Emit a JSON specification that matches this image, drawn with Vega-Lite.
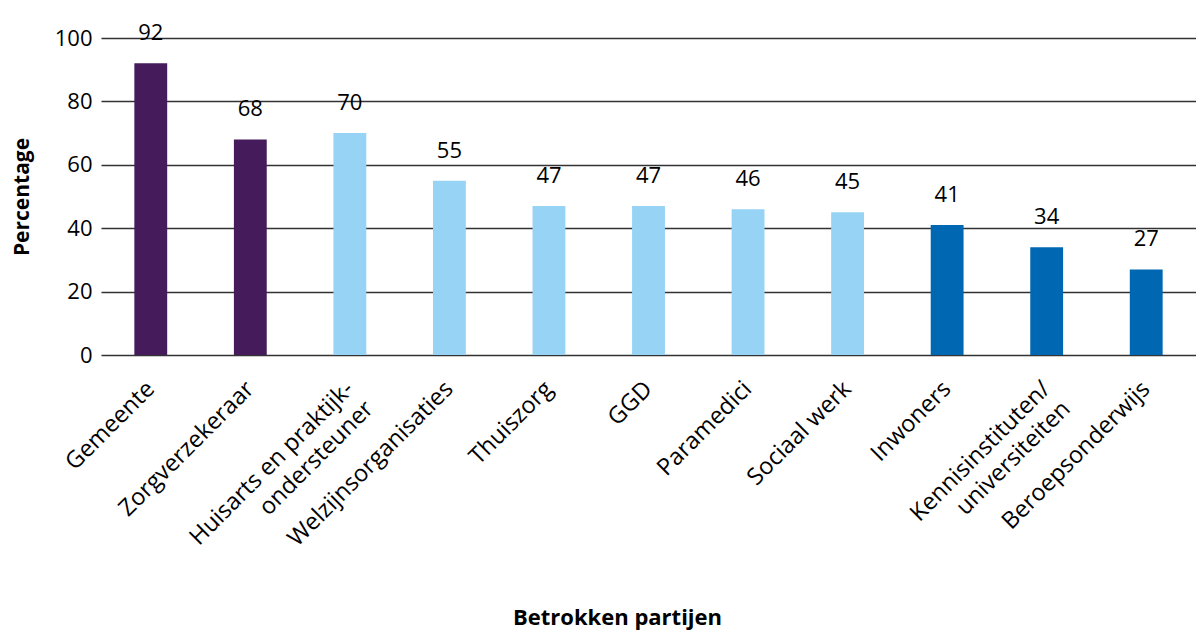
{
  "$schema": "https://vega.github.io/schema/vega-lite/v6.json",
  "autosize": {"type": "none"},
  "width": 1095,
  "height": 317,
  "padding": {"left": 101, "top": 38, "right": 0, "bottom": 280},
  "background": "white",
  "config": {
    "view": {"stroke": null},
    "font": "Open Sans",
    "axis": {"labelFont": "Open Sans", "titleFont": "Open Sans", "labelColor": "#000", "titleColor": "#000"}
  },
  "data": {
    "values": [
      {"partij": "Gemeente", "pct": 92, "groep": "a"},
      {"partij": "Zorgverzekeraar", "pct": 68, "groep": "a"},
      {"partij": "Huisarts en praktijk-|ondersteuner", "pct": 70, "groep": "b"},
      {"partij": "Welzijnsorganisaties", "pct": 55, "groep": "b"},
      {"partij": "Thuiszorg", "pct": 47, "groep": "b"},
      {"partij": "GGD", "pct": 47, "groep": "b"},
      {"partij": "Paramedici", "pct": 46, "groep": "b"},
      {"partij": "Sociaal werk", "pct": 45, "groep": "b"},
      {"partij": "Inwoners", "pct": 41, "groep": "c"},
      {"partij": "Kennisinstituten/|universiteiten", "pct": 34, "groep": "c"},
      {"partij": "Beroepsonderwijs", "pct": 27, "groep": "c"}
    ]
  },
  "encoding": {
    "x": {
      "field": "partij", "type": "nominal", "sort": null,
      "scale": {"paddingInner": 0.67, "paddingOuter": 0.335},
      "axis": {
        "title": "Betrokken partijen",
        "titleFontSize": 22, "titleFontWeight": "bold",
        "titleX": 516, "titleAlign": "center",
        "titleY": 252, "titleBaseline": "top",
        "labelAngle": -45, "labelAlign": "right", "labelBaseline": "middle",
        "labelFontSize": 23.5, "labelPadding": 30, "labelLimit": 0,
        "labelExpr": "split(datum.label, '|')",
        "labelLineHeight": 28,
        "ticks": false, "domain": false, "grid": false
      }
    },
    "y": {
      "field": "pct", "type": "quantitative",
      "scale": {"domain": [0, 100]},
      "axis": {
        "title": "Percentage",
        "titleFontSize": 21, "titleFontWeight": "bold",
        "titleX": -79, "titleBaseline": "middle",
        "values": [0, 20, 40, 60, 80, 100],
        "labelFontSize": 22, "labelPadding": 9,
        "ticks": false, "domain": false,
        "grid": true, "gridColor": "#333", "gridWidth": 1.5, "gridOpacity": 1
      }
    }
  },
  "layer": [
    {
      "mark": {"type": "bar"},
      "encoding": {
        "color": {
          "field": "groep", "type": "nominal",
          "scale": {"domain": ["a", "b", "c"], "range": ["#461B5C", "#97D3F5", "#0068B2"]},
          "legend": null
        }
      }
    },
    {
      "mark": {"type": "text", "fontSize": 22, "baseline": "middle", "dy": -30, "color": "#000"},
      "encoding": {"text": {"field": "pct", "type": "quantitative"}}
    }
  ]
}
